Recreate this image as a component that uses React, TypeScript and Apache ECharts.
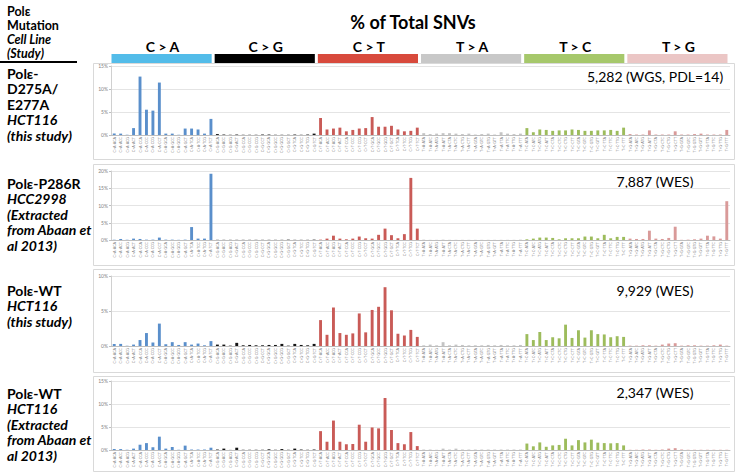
import React, { useEffect, useRef } from "react";
import * as echarts from "echarts";

const mutationTypes = ["C>A", "C>G", "C>T", "T>A", "T>C", "T>G"];
const contexts = ["ACA","ACC","ACG","ACT","CCA","CCC","CCG","CCT","GCA","GCC","GCG","GCT","TCA","TCC","TCG","TCT"];
const contextsT = ["ATA","ATC","ATG","ATT","CTA","CTC","CTG","CTT","GTA","GTC","GTG","GTT","TTA","TTC","TTG","TTT"];
const headerLabels = ["C > A", "C > G", "C > T", "T > A", "T > C", "T > G"];
const headerColors = ["#53BCE9", "#000000", "#D84A3C", "#C8C8C8", "#A6C86B", "#EBC6C5"];
const barColors = ["#5A8FCB", "#151515", "#C95B57", "#C4C4C4", "#9DBC5C", "#D99A99"];

// % of total SNVs, 16 contexts per substitution type
const panel1 = [
  0.3,0.3,0.05,1.5,12.7,5.5,5.3,11.4,0.3,0.3,0.05,1.4,1.4,1.2,0.3,3.5,
  0.2,0.1,0.05,0.1,0.05,0.05,0.05,0.1,0.1,0.05,0.05,0.05,0.1,0.05,0.1,0.3,
  3.7,1.2,1.4,1.6,0.8,1.1,1.4,1.5,3.9,1.8,1.8,2.0,1.2,0.8,0.9,1.6,
  0.4,0.2,0.3,0.4,0.4,0.3,0.2,0.3,0.1,0.2,0.3,0.1,0.6,0.3,0.2,0.3,
  1.5,0.6,1.2,1.1,0.9,1.0,1.0,1.2,1.1,0.9,0.9,1.0,1.0,1.1,0.9,1.6,
  0.2,0.1,0.1,1.0,0.1,0.1,0.1,0.8,0.1,0.1,0.2,0.3,0.1,0.1,0.1,1.1,
];
const panel2 = [
  0.05,0.3,0.1,0.4,0.3,0.1,0.1,0.7,0.1,0.1,0.05,0.1,3.75,0.4,0.4,19.2,
  0.05,0.05,0.05,0.05,0.05,0.05,0.05,0.05,0.05,0.05,0.05,0.1,0.05,0.05,0.05,0.1,
  0.1,0.4,1.25,0.4,0.2,0.4,1.0,0.5,0.4,1.5,3.3,1.4,0.5,1.7,18.0,3.3,
  0.1,0.05,0.05,0.1,0.05,0.05,0.05,0.05,0.05,0.05,0.05,0.05,0.05,0.05,0.05,0.1,
  0.2,0.4,0.7,0.7,0.6,0.2,0.5,0.5,0.5,1.0,1.0,0.5,1.5,0.5,0.9,0.9,
  0.4,0.3,0.3,2.7,0.4,0.3,0.6,3.85,0.05,0.1,0.2,0.4,1.25,1.05,0.4,11.25,
];
const panel3 = [
  0.3,0.3,0.05,0.2,0.85,1.85,0.5,3.2,0.25,0.55,0.15,0.55,0.2,0.35,0.1,0.7,
  0.2,0.2,0.05,0.45,0.1,0.15,0.1,0.1,0.15,0.15,0.3,0.05,0.3,0.15,0.1,0.3,
  3.7,1.6,5.5,1.85,1.6,1.8,4.65,1.95,5.15,5.6,8.4,5.1,1.75,1.5,2.3,1.3,
  0.1,0.2,0.1,0.55,0.1,0.2,0.15,0.1,0.1,0.1,0.15,0.1,0.15,0.1,0.1,0.15,
  1.7,0.85,2.0,0.85,1.25,1.1,3.05,1.15,2.25,1.2,2.25,1.7,1.65,1.25,1.4,1.3,
  0.05,0.05,0.1,0.1,0.05,0.2,0.35,0.4,0.05,0.1,0.1,0.05,0.05,0.1,0.2,0.05,
];
const panel4 = [
  0.2,0.2,0.05,0.3,1.15,1.5,0.6,2.9,0.3,0.65,0.05,0.95,0.1,0.1,0.1,0.5,
  0.1,0.3,0.02,0.5,0.05,0.05,0.05,0.05,0.15,0.05,0.2,0.05,0.3,0.1,0.05,0.1,
  4.1,1.8,6.4,1.8,1.25,1.3,5.5,1.8,4.9,4.7,11.3,4.35,1.5,1.25,3.9,0.85,
  0.1,0.1,0.05,0.3,0.1,0.3,0.1,0.1,0.1,0.1,0.1,0.1,0.1,0.1,0.1,0.1,
  1.4,0.8,1.65,0.7,1.0,1.1,2.45,1.0,2.15,1.65,2.25,1.6,1.5,1.45,1.5,1.0,
  0.05,0.05,0.1,0.1,0.05,0.1,0.3,0.4,0.1,0.05,0.05,0.05,0.05,0.05,0.05,0.05,
];
const panelData = [panel1, panel2, panel3, panel4];
const panelMax = [15, 20, 10, 15];
const panelNotes = ["5,282 (WGS, PDL=14)", "7,887 (WES)", "9,929 (WES)", "2,347 (WES)"];
const panelLabels = [
  [["Polε-", false], ["D275A/", false], ["E277A", false], ["HCT116", true], ["(this study)", true]],
  [["Polε-P286R", false], ["HCC2998", true], ["(Extracted", true], ["from Abaan et", true], ["al 2013)", true]],
  [["Polε-WT", false], ["HCT116", true], ["(this study)", true]],
  [["Polε-WT", false], ["HCT116", true], ["(Extracted", true], ["from Abaan et", true], ["al 2013)", true]],
];

// layout
const gridTops = [66, 171, 276, 381];
const gridHeights = [69, 69, 70, 69];
const boxes = [[63, 159], [164, 265], [269, 372], [376, 471]];
const labelTops = [73, 183, 290, 393];
const noteYs = [76, 181, 290, 392];
const FONT = "Lato, 'Open Sans', sans-serif";

const categories: string[] = [];
mutationTypes.forEach((m) => {
  const ctx = m[0] === "C" ? contexts : contextsT;
  ctx.forEach((c) => categories.push(m + "-" + c));
});

export default function App() {
  const ref = useRef<HTMLDivElement>(null);
  useEffect(() => {
    if (!ref.current) return;
    const chart = echarts.init(ref.current, null, { renderer: "svg" });
    const gridLeft = 111;
    const gridWidth = 619;
    const grids = gridTops.map((t, i) => ({ left: gridLeft, width: gridWidth, top: t, height: gridHeights[i] }));
    const xAxes = panelData.map((_, i) => ({
      type: "category",
      gridIndex: i,
      data: categories,
      axisLine: { show: true, lineStyle: { color: "#BFBFBF", width: 1 } },
      axisTick: { show: false },
      axisLabel: { interval: 0, rotate: 90, fontSize: 3.6, margin: 2, color: "#7F7F7F", fontFamily: FONT },
    }));
    const yAxes = panelData.map((_, i) => ({
      type: "value",
      gridIndex: i,
      min: 0,
      max: panelMax[i],
      interval: 5,
      axisLine: { show: true, lineStyle: { color: "#D0D0D0" } },
      axisTick: { show: true, length: 2, lineStyle: { color: "#BFBFBF" } },
      splitLine: { lineStyle: { color: "#E4E4E4" } },
      axisLabel: { fontSize: 5, margin: 3, color: "#7F7F7F", formatter: "{value}%", fontFamily: FONT },
    }));
    const series = panelData.map((d, i) => ({
      type: "bar",
      xAxisIndex: i,
      yAxisIndex: i,
      data: d,
      barWidth: "45%",
      itemStyle: { color: (p: any) => barColors[Math.floor(p.dataIndex / 16)] },
    }));

    const graphic: any[] = [];
    // panel boxes
    boxes.forEach(([y0, y1]) => {
      graphic.push({
        type: "rect", z: -1, silent: true,
        shape: { x: 93.5, y: y0 + 0.5, width: 641, height: y1 - y0 },
        style: { fill: "#FFFFFF", stroke: "#D9D9D9", lineWidth: 1 },
      });
    });
    // header left
    const headLines: [string, boolean, number][] = [["Polε", false, 11], ["Mutation", false, 25], ["Cell Line", true, 39], ["(Study)", true, 53]];
    headLines.forEach(([t, it, y]) => {
      graphic.push({ type: "text", x: 7, y, style: { text: t, font: `${it ? "italic " : ""}bold 12.5px ${FONT}`, fill: "#000", textVerticalAlign: "middle", verticalAlign: "middle" } });
    });
    graphic.push({ type: "line", shape: { x1: 0, y1: 62, x2: 77, y2: 62 }, style: { stroke: "#000", lineWidth: 2 } });
    // title
    graphic.push({ type: "text", x: 413, y: 22, style: { text: "% of Total SNVs", font: `bold 18px ${FONT}`, fill: "#000", textAlign: "center", align: "center", textVerticalAlign: "middle", verticalAlign: "middle" } });
    // category header bars
    const groupW = gridWidth / 6;
    headerLabels.forEach((lab, k) => {
      const x0 = gridLeft + k * groupW;
      graphic.push({ type: "rect", shape: { x: x0 + 0.5, y: 54, width: groupW - 3, height: 9 }, style: { fill: headerColors[k] } });
      graphic.push({ type: "text", x: x0 + groupW / 2, y: 46, style: { text: lab, font: `bold 14px ${FONT}`, fill: "#000", textAlign: "center", align: "center", textVerticalAlign: "middle", verticalAlign: "middle" } });
    });
    // left labels + notes
    panelLabels.forEach((lines, p) => {
      lines.forEach(([t, it], j) => {
        graphic.push({ type: "text", x: 7, y: labelTops[p] + j * 15.5, style: { text: t as string, font: `${it ? "italic " : ""}bold 14px ${FONT}`, fill: "#000", textVerticalAlign: "middle", verticalAlign: "middle" } });
      });
      graphic.push({ type: "text", x: 655, y: noteYs[p], style: { text: panelNotes[p], font: `14px ${FONT}`, fill: "#000", textAlign: "center", align: "center", textVerticalAlign: "middle", verticalAlign: "middle" } });
    });

    chart.setOption({
      animation: false,
      backgroundColor: "#FFFFFF",
      grid: grids,
      xAxis: xAxes,
      yAxis: yAxes,
      series,
      graphic,
    });
    return () => chart.dispose();
  }, []);
  return <div ref={ref} style={{ position: "absolute", left: 0, top: 0, width: 738, height: 475 }} />;
}
